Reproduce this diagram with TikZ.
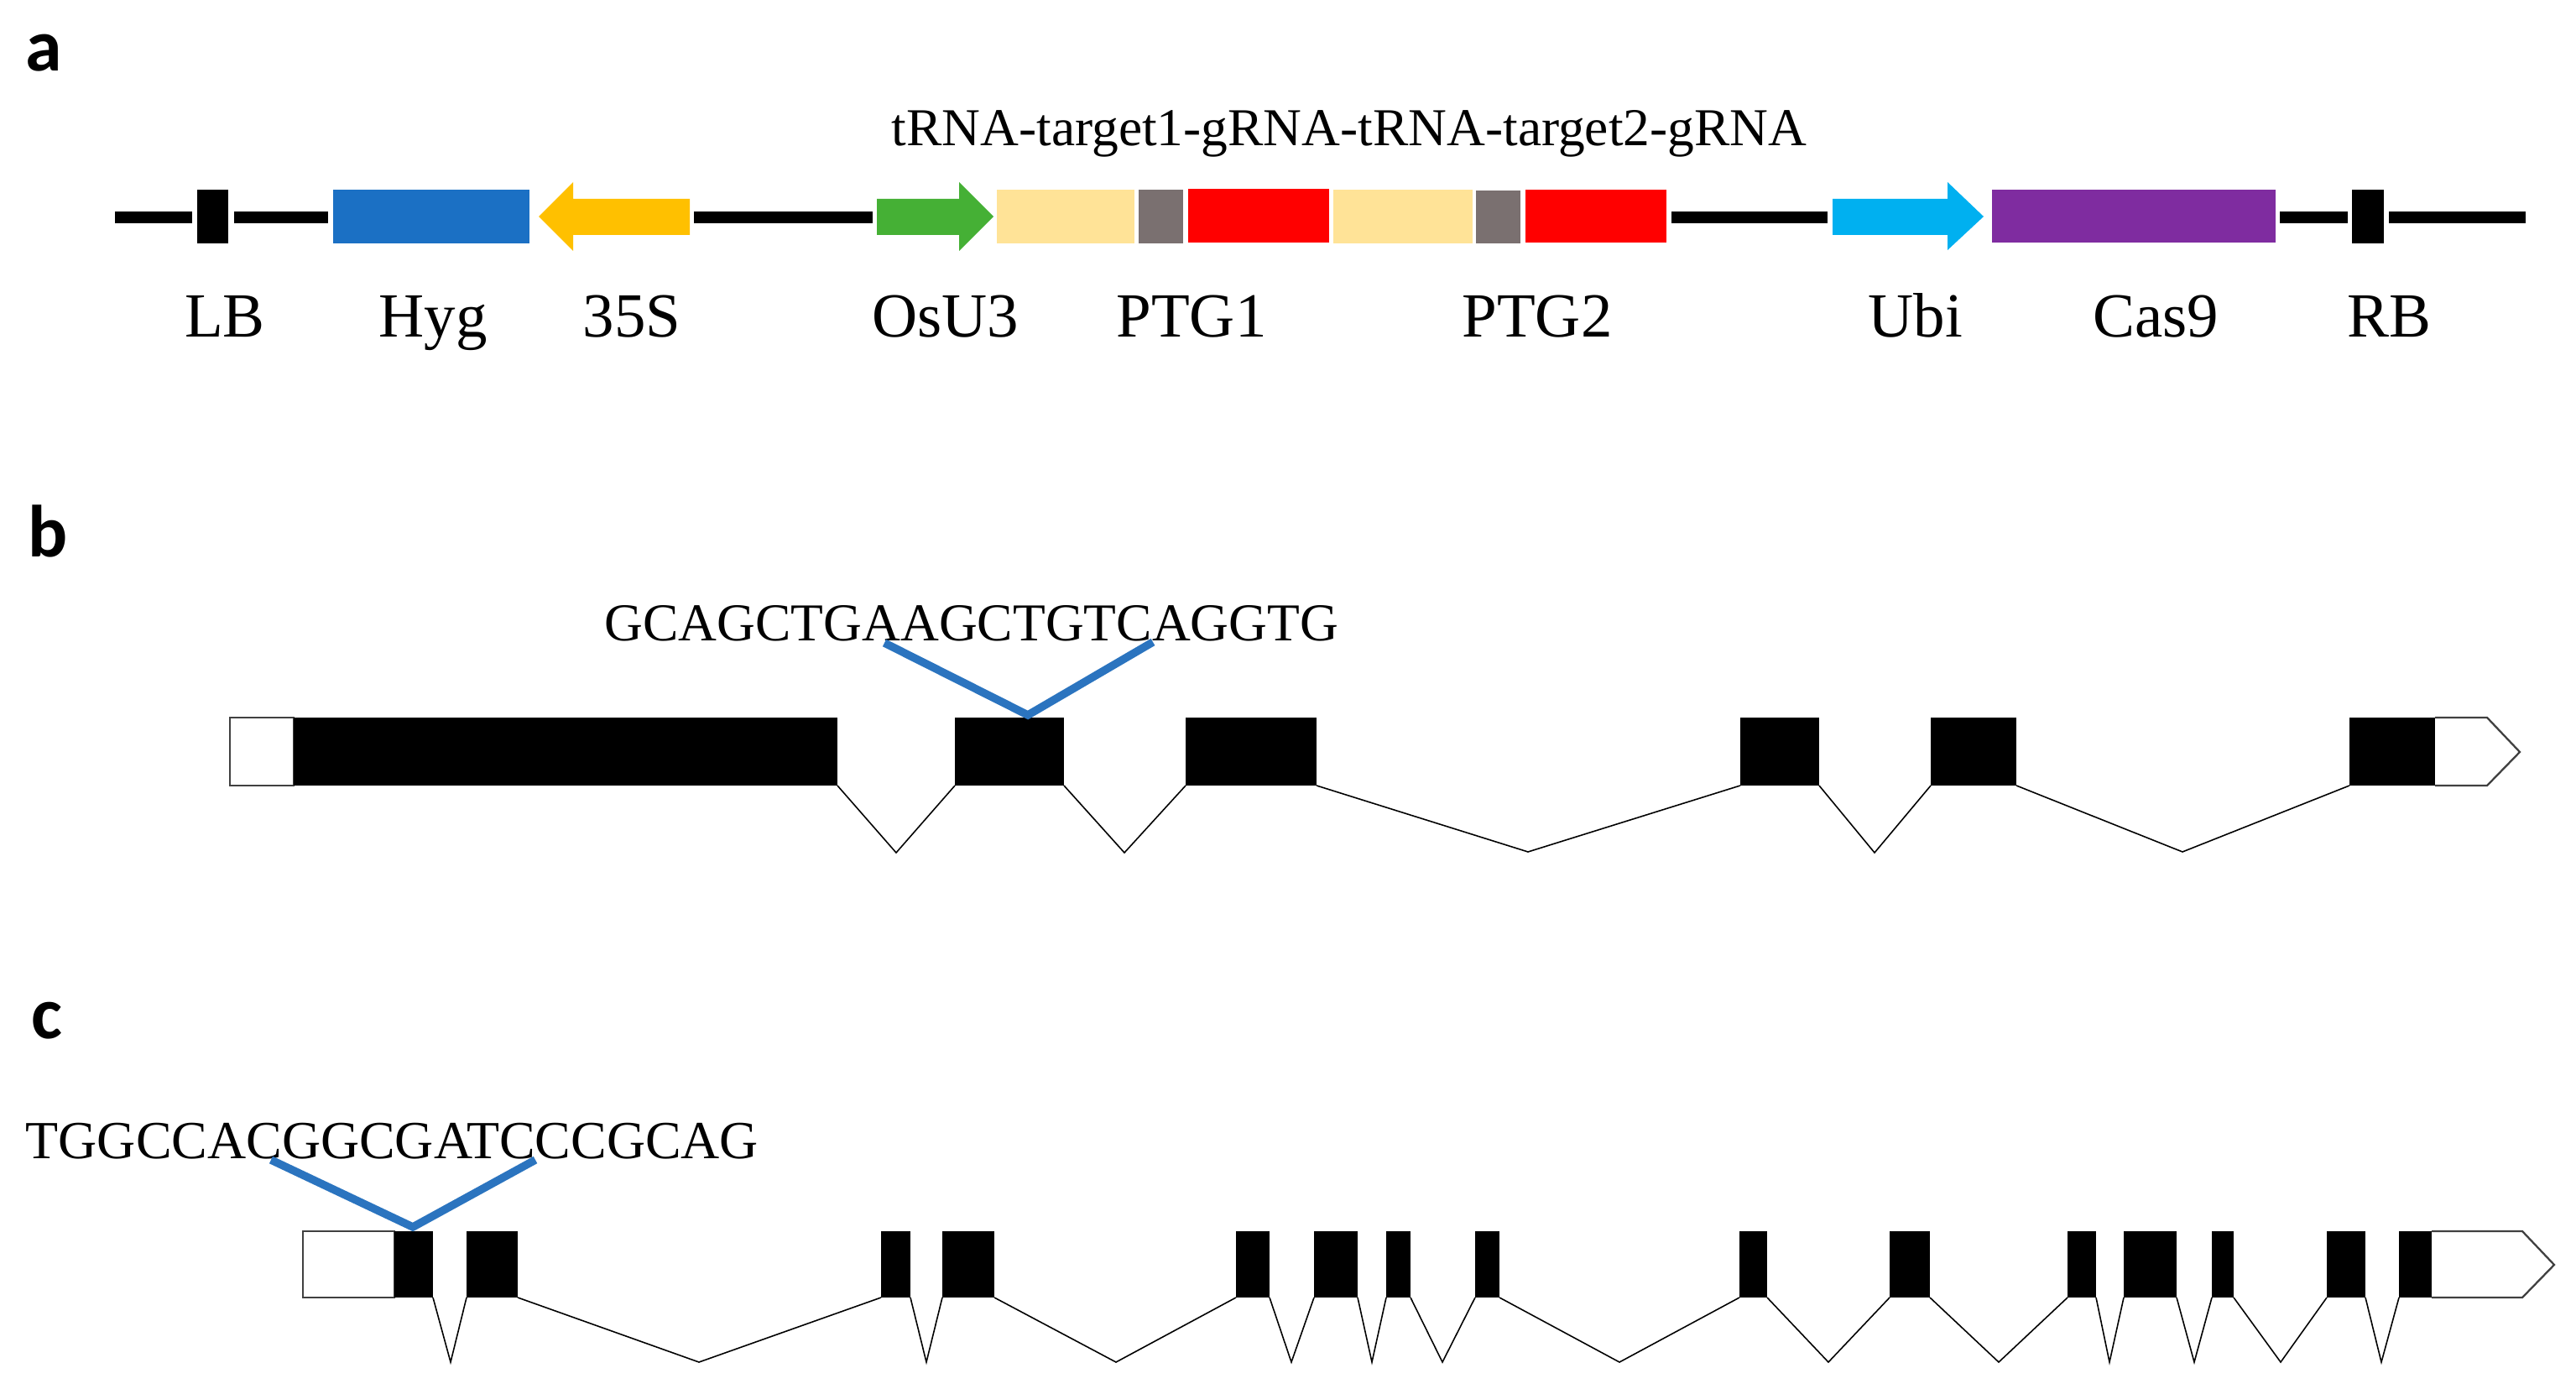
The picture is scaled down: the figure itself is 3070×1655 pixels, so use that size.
\documentclass[tikz,border=0pt]{standalone}
\usepackage{fontspec}
\setmainfont{Liberation Serif}
\newfontfamily\panelfont{Carlito}
\definecolor{hygblue}{HTML}{1B70C4}
\definecolor{amber}{HTML}{FFC000}
\definecolor{osgreen}{HTML}{45B035}
\definecolor{paleyellow}{HTML}{FFE397}
\definecolor{ptggray}{HTML}{7A7070}
\definecolor{ubiblue}{HTML}{00B0F0}
\definecolor{casviolet}{HTML}{7F2CA0}
\definecolor{guideblue}{HTML}{2B74BF}
\newcommand{\bx}[5]{\fill[#1] (#2,#4) rectangle (#3,#5);}
\tikzset{
  x=0.01cm, y=-0.01cm,
  partlabel/.style={inner sep=0pt, anchor=base, font=\fontsize{21.3pt}{24pt}\selectfont},
  seqlabel/.style={inner sep=0pt, anchor=base west, font=\fontsize{18.05pt}{20pt}\selectfont},
  seqlabelwide/.style={inner sep=0pt, anchor=base west, font=\fontsize{18.17pt}{20pt}\selectfont},
  paneltag/.style={inner sep=0pt, anchor=base west, font=\panelfont\bfseries\fontsize{25pt}{28pt}\selectfont},
  intron/.style={draw=black, line width=0.45pt, line join=miter},
  utr/.style={draw=black!75, line width=0.65pt, fill=white},
  guide/.style={draw=guideblue, line width=2.7pt, line join=miter}
}
\begin{document}
\begin{tikzpicture}
\useasboundingbox (0,0) rectangle (3070,1655);
% panel tags
\node[paneltag] (taga) at (30,85) {a};
\node[paneltag] (tagb) at (33,663) {b};
\node[paneltag] (tagc) at (37,1237) {c};
% panel a backbone
\foreach \a/\b in {137/229,279/391,827/1040,1992/2178,2717/2798,2847/3010}
  \fill[black] (\a,252) rectangle (\b,266);
\bx{black}{235}{272}{226}{290}
\bx{hygblue}{397}{631}{226}{290}
\fill[amber] (642,258) -- (683,217) -- (683,237) -- (822,237) -- (822,280) -- (683,280) -- (683,299) -- cycle;
\fill[osgreen] (1184,258) -- (1143,217) -- (1143,237) -- (1045,237) -- (1045,280) -- (1143,280) -- (1143,299) -- cycle;
\bx{paleyellow}{1188}{1352}{226}{290}
\bx{ptggray}{1357}{1410}{226}{290}
\bx{red}{1416}{1584}{225}{289}
\bx{paleyellow}{1589}{1755}{226}{290}
\bx{ptggray}{1759}{1812}{227}{290}
\bx{red}{1818}{1986}{226}{289}
\fill[ubiblue] (2364,258) -- (2321,217) -- (2321,237) -- (2184,237) -- (2184,280) -- (2321,280) -- (2321,298) -- cycle;
\bx{casviolet}{2374}{2712}{226}{289}
\bx{black}{2803}{2841}{226}{290}
% panel a labels
\node[seqlabel] (construct) at (1062,174) {tRNA-target1-gRNA-tRNA-target2-gRNA};
\node[partlabel] (lb) at (268,402) {LB};
\node[partlabel] (hyg) at (516,402) {Hyg};
\node[partlabel] (p35s) at (753,402) {35S};
\node[partlabel] (osu3) at (1127,402) {OsU3};
\node[partlabel] (ptg1) at (1420,402) {PTG1};
\node[partlabel] (ptg2) at (1832,402) {PTG2};
\node[partlabel] (ubi) at (2283,402) {Ubi};
\node[partlabel] (cas9) at (2569,402) {Cas9};
\node[partlabel] (rb) at (2847,402) {RB};
% panel b gene
\draw[utr] (274,855) rectangle (350,936);
\draw[utr] (2902,855) -- (2964,855) -- (3003,896) -- (2964,936) -- (2902,936);
\foreach \a/\b in {350/998,1138/1268,1413/1569,2074/2168,2301/2403,2800/2902}
  \fill[black] (\a,855) rectangle (\b,936);
\draw[intron] (998,936) -- (1068,1016) -- (1138,936);
\draw[intron] (1268,936) -- (1340,1016) -- (1413,936);
\draw[intron] (1569,936) -- (1821,1015) -- (2074,936);
\draw[intron] (2168,936) -- (2234,1016) -- (2301,936);
\draw[intron] (2403,936) -- (2601,1015) -- (2800,936);
\node[seqlabel] (seqb) at (720,763) {GCAGCTGAAGCTGTCAGGTG};
\draw[guide] (1054,766) -- (1225,852) -- (1374,765);
% panel c gene
\draw[utr] (361,1467) rectangle (470,1546);
\draw[utr] (2898,1467) -- (3006,1467) -- (3044,1507) -- (3006,1546) -- (2898,1546);
\foreach \a/\b in {470/516,556/617,1050/1085,1123/1185,1473/1513,1566/1618,1652/1681,1758/1787,2073/2106,2252/2300,2464/2498,2531/2594,2636/2662,2773/2819,2859/2898}
  \fill[black] (\a,1467) rectangle (\b,1546);
\foreach \a/\m/\b in {516/537/556,617/833/1050,1085/1104/1123,1185/1330/1473,1513/1539/1566,1618/1635/1652,1681/1719/1758,1787/1930/2073,2106/2179/2252,2300/2382/2464,2498/2514/2531,2594/2615/2636,2662/2718/2773,2819/2838/2859}
  \draw[intron] (\a,1546) -- (\m,1623) -- (\b,1546);
\node[seqlabelwide] (seqc) at (30,1380) {TGGCCACGGCGATCCCGCAG};
\draw[guide] (323,1382) -- (492,1462) -- (638,1382);
\end{tikzpicture}
\end{document}
